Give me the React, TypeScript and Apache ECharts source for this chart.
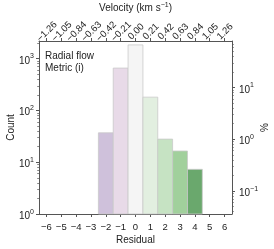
import React, { useEffect, useRef } from "react";
import * as echarts from "echarts";

const residuals = [-2, -1, 0, 1, 2, 3, 4];
const counts = [37, 660, 1850, 181, 28, 16.5, 7.3];
const barColors = ["#cfc1db", "#e8dae8", "#f5f5f5", "#e2efe0", "#c6e3c3", "#a1d09c", "#6aa86d"];
const xTicks = [-6, -5, -4, -3, -2, -1, 0, 1, 2, 3, 4, 5, 6];
const velocityStep = 0.21;
const countTicks = [1, 10, 100, 1000];
const percentTicks = [0.1, 1, 10];
const countMax = 2200;

const FONT = "Liberation Sans, Arial, Helvetica, sans-serif";

function minorValues(lo: number, hi: number): number[] {
  const out: number[] = [];
  for (let e = -3; e <= 4; e++) {
    for (let m = 2; m <= 9; m++) {
      const v = m * Math.pow(10, e);
      if (v > lo && v < hi) out.push(Number(v.toPrecision(3)));
    }
  }
  return out;
}

function fmtMinus(v: number, digits: number): string {
  const s = Math.abs(v).toFixed(digits);
  return v < -1e-9 ? "\u2212" + s : s;
}

function expLabel(v: number): string {
  const e = Math.round(Math.log10(v));
  const es = e < 0 ? "\u2212" + Math.abs(e) : String(e);
  return "{b|10}{s|" + es + "}";
}

const richSup = {
  b: { fontSize: 10, fontFamily: FONT, color: "#222", verticalAlign: "bottom", lineHeight: 13 },
  s: { fontSize: 7, fontFamily: FONT, color: "#222", verticalAlign: "top", lineHeight: 13 },
};

export default function App() {
  const ref = useRef<HTMLDivElement>(null);
  useEffect(() => {
    if (!ref.current) return;
    const chart = echarts.init(ref.current, undefined, { renderer: "svg" });
    const total = counts.reduce((a, b) => a + b, 0);
    const pMin = (1 * 100) / total;
    const pMax = (countMax * 100) / total;
    const axisColor = "#555";
    const line = { show: true, onZero: false, lineStyle: { color: axisColor, width: 1 } };
    const option: any = {
      animation: false,
      grid: { left: 39, right: 42, top: 41, bottom: 35, containLabel: false, outerBoundsMode: "none" },
      xAxis: [
        {
          type: "value",
          position: "bottom",
          min: -6.5,
          max: 6.5,
          name: "Residual",
          nameLocation: "middle",
          nameGap: 20,
          nameMoveOverlap: false,
          nameTextStyle: { fontSize: 10, fontFamily: FONT, color: "#222" },
          axisLine: line,
          axisTick: { show: true, length: 3, customValues: xTicks, lineStyle: { color: axisColor } },
          axisLabel: {
            customValues: xTicks,
            fontSize: 9.5,
            fontFamily: FONT,
            color: "#222",
            margin: 7,
            formatter: (v: number) => fmtMinus(v, 0),
          },
          splitLine: { show: false },
        },
        {
          type: "value",
          position: "top",
          min: -6.5,
          max: 6.5,
          name: "Velocity (km s{s|\u22121})",
          nameLocation: "middle",
          nameGap: 27,
          nameMoveOverlap: false,
          nameTextStyle: {
            fontSize: 10,
            fontFamily: FONT,
            color: "#222",
            rich: {
              s: { fontSize: 7, fontFamily: FONT, color: "#222", verticalAlign: "top", lineHeight: 13 },
            },
          },
          axisLine: line,
          axisTick: { show: true, length: 3, customValues: xTicks, lineStyle: { color: axisColor } },
          axisLabel: {
            customValues: xTicks,
            rotate: -45,
            align: "center",
            verticalAlign: "middle",
            margin: 10,
            fontSize: 9.5,
            fontFamily: FONT,
            color: "#222",
            formatter: (v: number) => fmtMinus(v * velocityStep, 2),
          },
          splitLine: { show: false },
        },
      ],
      yAxis: [
        {
          type: "log",
          logBase: 10,
          position: "left",
          min: 1,
          max: countMax,
          name: "Count",
          nameLocation: "middle",
          nameGap: 24,
          nameRotate: 90,
          nameMoveOverlap: false,
          nameTextStyle: { fontSize: 10, fontFamily: FONT, color: "#222" },
          axisLine: line,
          axisTick: { show: true, length: 3, customValues: countTicks, lineStyle: { color: axisColor } },
          axisLabel: {
            customValues: countTicks,
            margin: 5,
            formatter: (v: number) => expLabel(v),
            rich: richSup,
          },
          splitLine: { show: false },
        },
        {
          type: "log",
          logBase: 10,
          position: "right",
          min: pMin,
          max: pMax,
          name: "%",
          nameLocation: "middle",
          nameGap: 27,
          nameRotate: 90,
          nameMoveOverlap: false,
          nameTextStyle: { fontSize: 10, fontFamily: FONT, color: "#222" },
          axisLine: line,
          axisTick: { show: true, length: 3, customValues: percentTicks, lineStyle: { color: axisColor } },
          axisLabel: {
            customValues: percentTicks,
            margin: 7,
            formatter: (v: number) => expLabel(v),
            rich: richSup,
          },
          splitLine: { show: false },
        },
        {
          type: "log",
          logBase: 10,
          position: "left",
          min: 1,
          max: countMax,
          axisLine: { show: false, onZero: false },
          axisTick: { show: true, length: 1.8, customValues: minorValues(1, countMax), lineStyle: { color: axisColor, width: 0.7 } },
          axisLabel: { show: false },
          splitLine: { show: false },
        },
        {
          type: "log",
          logBase: 10,
          position: "right",
          min: pMin,
          max: pMax,
          axisLine: { show: false, onZero: false },
          axisTick: { show: true, length: 1.8, customValues: minorValues(pMin, pMax), lineStyle: { color: axisColor, width: 0.7 } },
          axisLabel: { show: false },
          splitLine: { show: false },
        },
      ],
      graphic: [
        {
          type: "text",
          left: 45,
          top: 50,
          z: 10,
          style: {
            text: "Radial flow\nMetric (i)",
            font: "10px " + FONT,
            lineHeight: 11.5,
            fill: "#222",
          },
        },
      ],
      series: [
        {
          type: "custom",
          xAxisIndex: 0,
          yAxisIndex: 0,
          data: residuals.map((r, i) => [r, counts[i]]),
          renderItem: (params: any, api: any) => {
            const x = api.value(0);
            const y = api.value(1);
            const p1 = api.coord([x - 0.5, y]);
            const p0 = api.coord([x + 0.5, 1]);
            return {
              type: "rect",
              shape: { x: p1[0], y: p1[1], width: p0[0] - p1[0], height: p0[1] - p1[1] },
              style: { fill: barColors[params.dataIndex], stroke: "#c9c9c9", lineWidth: 0.8 },
            };
          },
        },
      ],
    };
    chart.setOption(option);
    return () => chart.dispose();
  }, []);
  return <div ref={ref} style={{ position: "fixed", left: 0, top: 0, width: 274, height: 249 }} />;
}
